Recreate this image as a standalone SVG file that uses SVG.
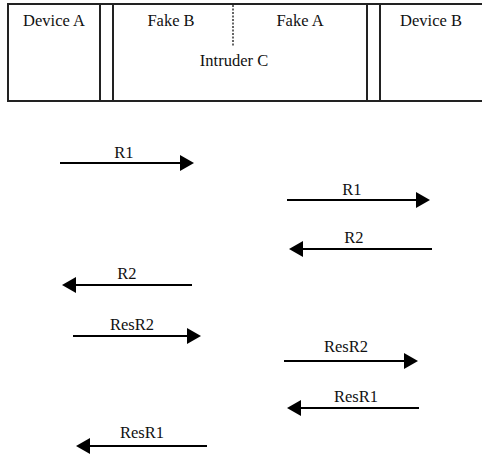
<svg xmlns="http://www.w3.org/2000/svg" width="482" height="454" viewBox="0 0 482 454">
<style>
text{font-family:"Liberation Serif","Times New Roman",serif;font-size:16.5px;fill:#111;text-anchor:middle}
.b{stroke:#222;stroke-width:2;fill:none}
.a{stroke:#000;stroke-width:2.2;fill:none}
.h{fill:#000}
</style>
<defs>
<path id="hr" class="h" d="M-14,-8 L0,0 L-14,8 Z"/>
<path id="hl" class="h" d="M14,-8 L0,0 L14,8 Z"/>
</defs>
<rect width="482" height="454" fill="#fff"/>
<g id="frame">
<path class="b" d="M8,4 H484 M8,101 H484 M8,3 V102"/>
</g>
<g id="deviceA">
<path class="b" d="M100,4 V101"/>
<text x="54" y="26" font-family="Liberation Serif">Device A</text>
</g>
<g id="intruderC">
<path class="b" d="M113,4 V101 M367,4 V101"/>
<path d="M233,5 V47" stroke="#333" stroke-width="1.5" stroke-dasharray="2,1.5"/>
<text x="171" y="26" font-family="Liberation Serif">Fake B</text>
<text x="300" y="26" font-family="Liberation Serif">Fake A</text>
<text x="234" y="66" font-family="Liberation Serif">Intruder C</text>
</g>
<g id="deviceB">
<path class="b" d="M380,4 V101"/>
<text x="431" y="26" font-family="Liberation Serif">Device B</text>
</g>
<g id="connectors">
<path class="a" d="M60,163 H182"/><use href="#hr" x="194" y="163"/>
<text x="124" y="158" font-family="Liberation Serif">R1</text>
<path class="a" d="M287,200 H418"/><use href="#hr" x="430" y="200"/>
<text x="352" y="195" font-family="Liberation Serif">R1</text>
<path class="a" d="M432,249 H301"/><use href="#hl" x="289" y="249"/>
<text x="354" y="243" font-family="Liberation Serif">R2</text>
<path class="a" d="M192,285 H74"/><use href="#hl" x="62" y="285"/>
<text x="127" y="279" font-family="Liberation Serif">R2</text>
<path class="a" d="M73,336 H189"/><use href="#hr" x="201" y="336"/>
<text x="132" y="330" font-family="Liberation Serif">ResR2</text>
<path class="a" d="M284,361 H406"/><use href="#hr" x="418" y="361"/>
<text x="346" y="352" font-family="Liberation Serif">ResR2</text>
<path class="a" d="M419,408 H299"/><use href="#hl" x="287" y="408"/>
<text x="356" y="402" font-family="Liberation Serif">ResR1</text>
<path class="a" d="M207,446 H88"/><use href="#hl" x="76" y="446"/>
<text x="142" y="438" font-family="Liberation Serif">ResR1</text>
</g>
</svg>
